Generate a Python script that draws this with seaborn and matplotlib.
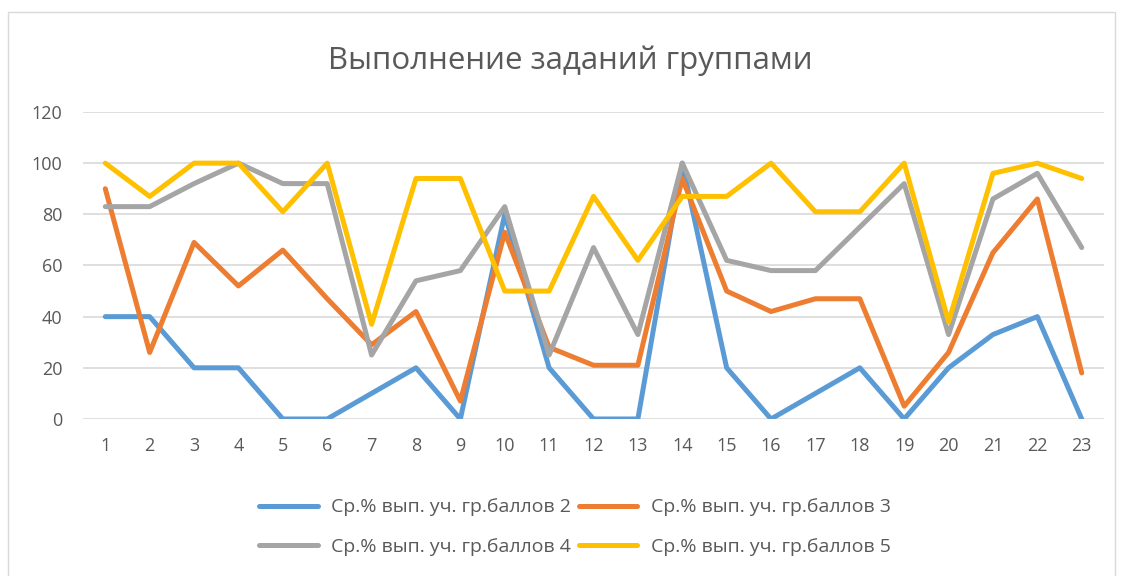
# -*- coding: utf-8 -*-
import numpy as np
import pandas as pd
import matplotlib
matplotlib.use("Agg")
import matplotlib.pyplot as plt
from matplotlib.patches import Rectangle
import seaborn as sns

# Task numbers.
tasks = list(range(1, 24))

# Average % of completion by score group.
grp_2 = [40, 40, 20, 20, 0, 0, 10, 20, 0, 80, 20, 0, 0, 100, 20, 0, 10, 20, 0, 20, 33, 40, 0]
grp_3 = [90, 26, 69, 52, 66, 47, 29, 42, 7, 73, 28, 21, 21, 94, 50, 42, 47, 47, 5, 26, 65, 86, 18]
grp_4 = [83, 83, 92, 100, 92, 92, 25, 54, 58, 83, 25, 67, 33, 100, 62, 58, 58, 75, 92, 33, 86, 96, 67]
grp_5 = [100, 87, 100, 100, 81, 100, 37, 94, 94, 50, 50, 87, 62, 87, 87, 100, 81, 81, 100, 38, 96, 100, 94]

labels = ["Ср.% вып. уч. гр.баллов 2", "Ср.% вып. уч. гр.баллов 3",
          "Ср.% вып. уч. гр.баллов 4", "Ср.% вып. уч. гр.баллов 5"]
colors = ["#5B9BD5", "#ED7D31", "#A5A5A5", "#FFC000"]

# Long-form table for seaborn.
df = pd.concat([pd.DataFrame({"task": tasks, "value": vals, "group": lab})
                for vals, lab in zip([grp_2, grp_3, grp_4, grp_5], labels)],
               ignore_index=True)

sns.set_style("white")
plt.rcParams["font.family"] = ["Open Sans", "DejaVu Sans"]

fig = plt.figure(figsize=(11.23, 5.76), dpi=100)
ax = fig.add_axes([0.074, 0.2726, 0.909, 0.533])

# Outer chart border.
fig.patches.append(Rectangle((0.007, -0.01), 0.986, 0.99, transform=fig.transFigure,
                             fill=False, edgecolor="#d9d9d9", linewidth=1))

sns.lineplot(data=df, x="task", y="value", hue="group", palette=colors,
             linewidth=3.6, ax=ax, legend=True)

# Axes.
ax.set_xlim(0.5, 23.5)
ax.set_ylim(0, 120)
ax.set_xticks(tasks)
ax.set_yticks(np.arange(0, 121, 20))
ax.tick_params(axis="both", length=0, labelsize=13, labelcolor="#595959")
ax.tick_params(axis="y", pad=15)
ax.tick_params(axis="x", pad=13)
ax.yaxis.grid(True, color="#d9d9d9", linewidth=1.2)
ax.set_axisbelow(True)
for s in ax.spines.values():
    s.set_visible(False)
ax.set_xlabel("")
ax.set_ylabel("")

# Title.
fig.text(0.508, 0.895, "Выполнение заданий группами", ha="center", va="center",
         fontsize=22.5, color="#595959")

# Legend, row-wise order.
handles, labs = ax.get_legend_handles_labels()
ax.get_legend().remove()
order = [0, 2, 1, 3]
fig.legend([handles[i] for i in order], [labs[i] for i in order],
           loc="center", bbox_to_anchor=(0.512, 0.085), ncol=2, frameon=False,
           fontsize=14, labelcolor="#595959", handlelength=3.0,
           columnspacing=0.4, handletextpad=0.7, labelspacing=1.1)

plt.savefig("out.png", dpi=100)
